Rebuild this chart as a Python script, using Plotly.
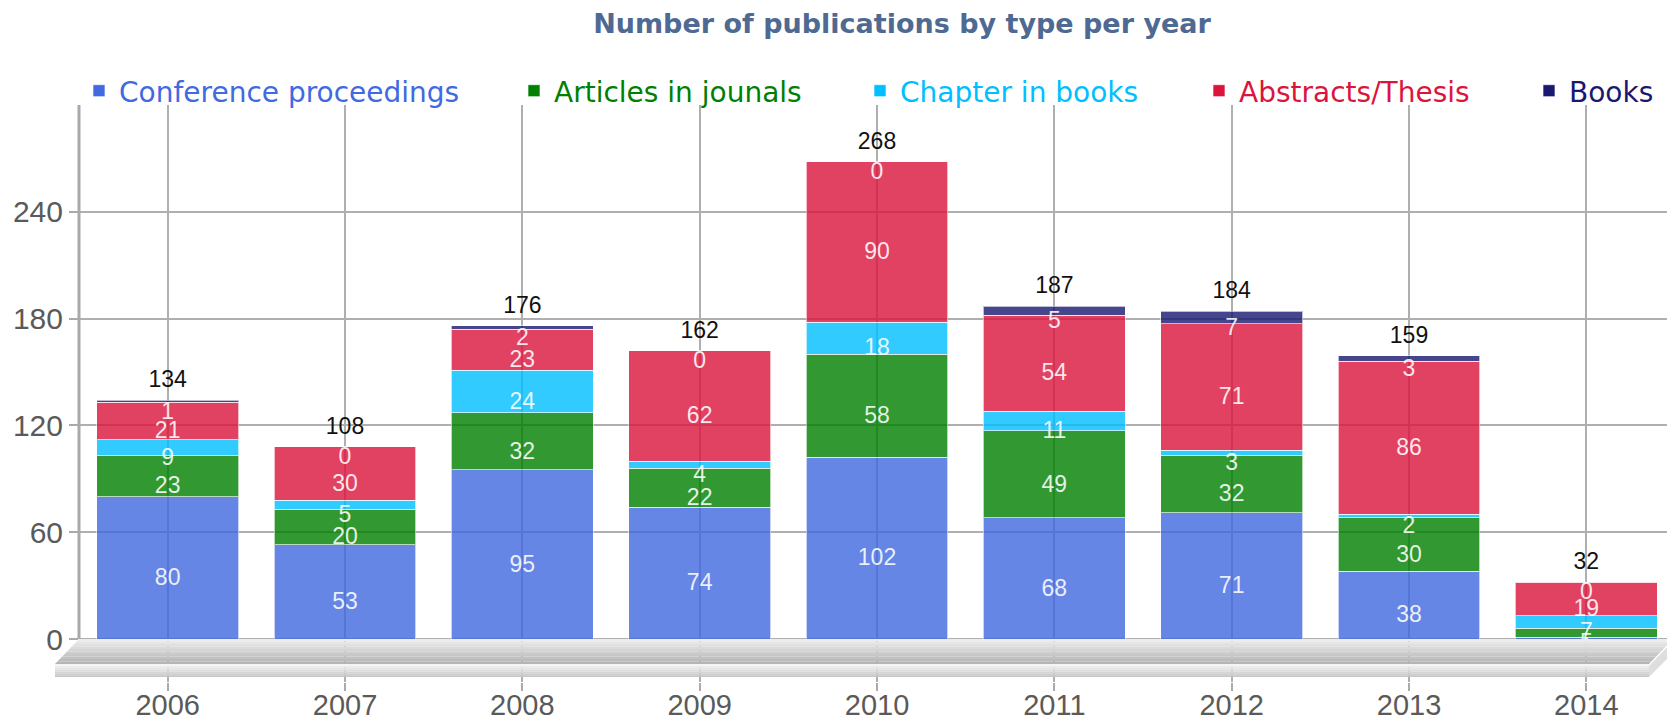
import plotly.graph_objects as go

# ---------------- data ----------------
years = ["2006", "2007", "2008", "2009", "2010", "2011", "2012", "2013", "2014"]
conference = [80, 53, 95, 74, 102, 68, 71, 38, 1]
articles = [23, 20, 32, 22, 58, 49, 32, 30, 5]
chapters = [9, 5, 24, 4, 18, 11, 3, 2, 7]
abstracts = [21, 30, 23, 62, 90, 54, 71, 86, 19]
books = [1, 0, 2, 0, 0, 5, 7, 3, 0]
series_names = ["Conference proceedings", "Articles in jounals", "Chapter in books",
                "Abstracts/Thesis", "Books"]
y_ticks = [0, 60, 120, 180, 240]

series_values = [conference, articles, chapters, abstracts, books]
colors = ["#4169E1", "#008000", "#00BFFF", "#DC143C", "#191970"]

# ---------------- layout geometry (pixels, in the 1675x722 page frame) ----------------
W, H = 1675, 722
OFF = 8                      # the page body offsets the figure by 8px
FW, FH = W - OFF, H - OFF    # figure size so that it ends exactly at the page edge
L, R, T, B = 79, 1675, 105, 682
Y_MAX = 300
Y_ZERO_PX = 639
Y_MIN = -(B - Y_ZERO_PX) * Y_MAX / (Y_ZERO_PX - T)


def px_x(p):
    return (p - L) / (R - L)


def px_y(p):
    return (B - p) / (B - T)


fig = go.Figure()

legend_names = ["legend", "legend2", "legend3", "legend4", "legend5"]
for name, vals, col, lg in zip(series_names, series_values, colors, legend_names):
    fig.add_trace(go.Bar(
        x=years, y=vals, name=name, legend=lg,
        marker=dict(color=col, opacity=0.8,
                    line=dict(color="rgba(255,255,255,0.65)", width=1)),
        hoverinfo="x+y+name",
    ))

# ---------------- value labels (scatter text traces) ----------------
base = [0] * len(years)
for vals in series_values:
    mids = [b + v / 2 for b, v in zip(base, vals)]
    fig.add_trace(go.Scatter(
        x=years, y=mids, mode="text", text=[str(v) for v in vals],
        textposition="bottom center", cliponaxis=False, showlegend=False,
        hoverinfo="skip",
        textfont=dict(family="Liberation Sans, Arial", size=23,
                      color="rgba(255,255,255,0.88)")))
    base = [b + v for b, v in zip(base, vals)]
totals = base
fig.add_trace(go.Scatter(
    x=years, y=totals, mode="markers+text", text=[str(t) for t in totals],
    textposition="top center", cliponaxis=False, showlegend=False, hoverinfo="skip",
    marker=dict(size=10, opacity=0),
    textfont=dict(family="Liberation Sans, Arial", size=23, color="#111111")))

# ---------------- decorative 3D floor ----------------
def lerp_color(c0, c1, t):
    a = [int(c0[k:k + 2], 16) for k in (1, 3, 5)]
    b = [int(c1[k:k + 2], 16) for k in (1, 3, 5)]
    return "rgb(%d,%d,%d)" % tuple(round(a[j] + (b[j] - a[j]) * t) for j in range(3))


def poly(pts):
    return "M " + " L ".join("%.5f,%.5f" % (px_x(x), px_y(y)) for x, y in pts) + " Z"


shapes = []
ty0, ty1 = 639, 664


def xl(y):
    return 79 + (55 - 79) * (y - ty0) / (ty1 - ty0)


def xr(y):
    return 1673 + (1649 - 1673) * (y - ty0) / (ty1 - ty0)


n = 10
for k in range(n):
    ya = ty0 + (ty1 - ty0) * k / n
    yb = ty0 + (ty1 - ty0) * (k + 1) / n
    shapes.append(dict(type="path", xref="paper", yref="paper", layer="above",
                       path=poly([(xl(ya), ya), (xr(ya), ya), (xr(yb), yb), (xl(yb), yb)]),
                       fillcolor=lerp_color("#efefef", "#b2b2b2", (k + 0.5) / n),
                       line=dict(width=0)))
shapes.append(dict(type="path", xref="paper", yref="paper", layer="above",
                   path=poly([(55, 664), (1649, 664), (1649, 666), (55, 666)]),
                   fillcolor="#f4f4f4", line=dict(width=0)))
fy0, fy1 = 666, 677
n = 6
for k in range(n):
    ya = fy0 + (fy1 - fy0) * k / n
    yb = fy0 + (fy1 - fy0) * (k + 1) / n
    shapes.append(dict(type="path", xref="paper", yref="paper", layer="above",
                       path=poly([(55, ya), (1649, ya), (1649, yb), (55, yb)]),
                       fillcolor=lerp_color("#f0f0f0", "#c2c2c2", (k + 0.5) / n),
                       line=dict(width=0)))
shapes.append(dict(type="path", xref="paper", yref="paper", layer="above",
                   path=poly([(1649, 666), (1673, 641), (1673, 653), (1649, 677)]),
                   fillcolor="#dedede", line=dict(width=0)))
# y axis line (from 0 up to the top)
shapes.append(dict(type="line", xref="paper", yref="y", x0=0, x1=0, y0=0, y1=Y_MAX,
                   line=dict(color="#a9a9a9", width=3), layer="above"))

# ---------------- legends ----------------
text_starts = [114, 554, 900, 1239, 1569]
legend_cfg = {}
for lg, ts, col in zip(legend_names, text_starts, colors):
    legend_cfg[lg] = dict(
        orientation="h", x=max(0.0, px_x(ts - 40)), xanchor="left",
        y=px_y(91), yanchor="middle",
        bgcolor="rgba(0,0,0,0)", borderwidth=0,
        font=dict(family="DejaVu Sans, Verdana", size=28, color=col),
    )

fig.update_layout(
    width=FW, height=FH,
    margin=dict(l=L - OFF, r=W - R, t=T - OFF, b=H - B, pad=0, autoexpand=False),
    paper_bgcolor="white", plot_bgcolor="white",
    barmode="stack", bargap=0.2,
    title=dict(text="<b>Number of publications by type per year</b>",
               x=(902 - OFF) / FW, xref="container", xanchor="center",
               y=1 - (24 - OFF) / FH, yref="container", yanchor="middle",
               font=dict(family="DejaVu Sans, Verdana", size=27, color="#4E6A92")),
    xaxis=dict(type="category", range=[-0.5, 8.5], showgrid=True,
               gridcolor="#afafaf", gridwidth=1.5, showline=False, zeroline=False,
               ticks="outside", ticklen=8, tickwidth=2, tickcolor="#aaaaaa",
               ticklabelstandoff=-11,
               tickfont=dict(family="Liberation Sans, Arial", size=29, color="#5a5a5a")),
    yaxis=dict(range=[Y_MIN, Y_MAX], tickvals=y_ticks, showgrid=True,
               gridcolor="#afafaf", gridwidth=1.5, showline=False, zeroline=False,
               ticks="outside", ticklen=9, tickwidth=2, tickcolor="#aaaaaa",
               tickfont=dict(family="Liberation Sans, Arial", size=30, color="#5a5a5a")),
    shapes=shapes,
    **legend_cfg,
)

fig.write_html("out.html")
